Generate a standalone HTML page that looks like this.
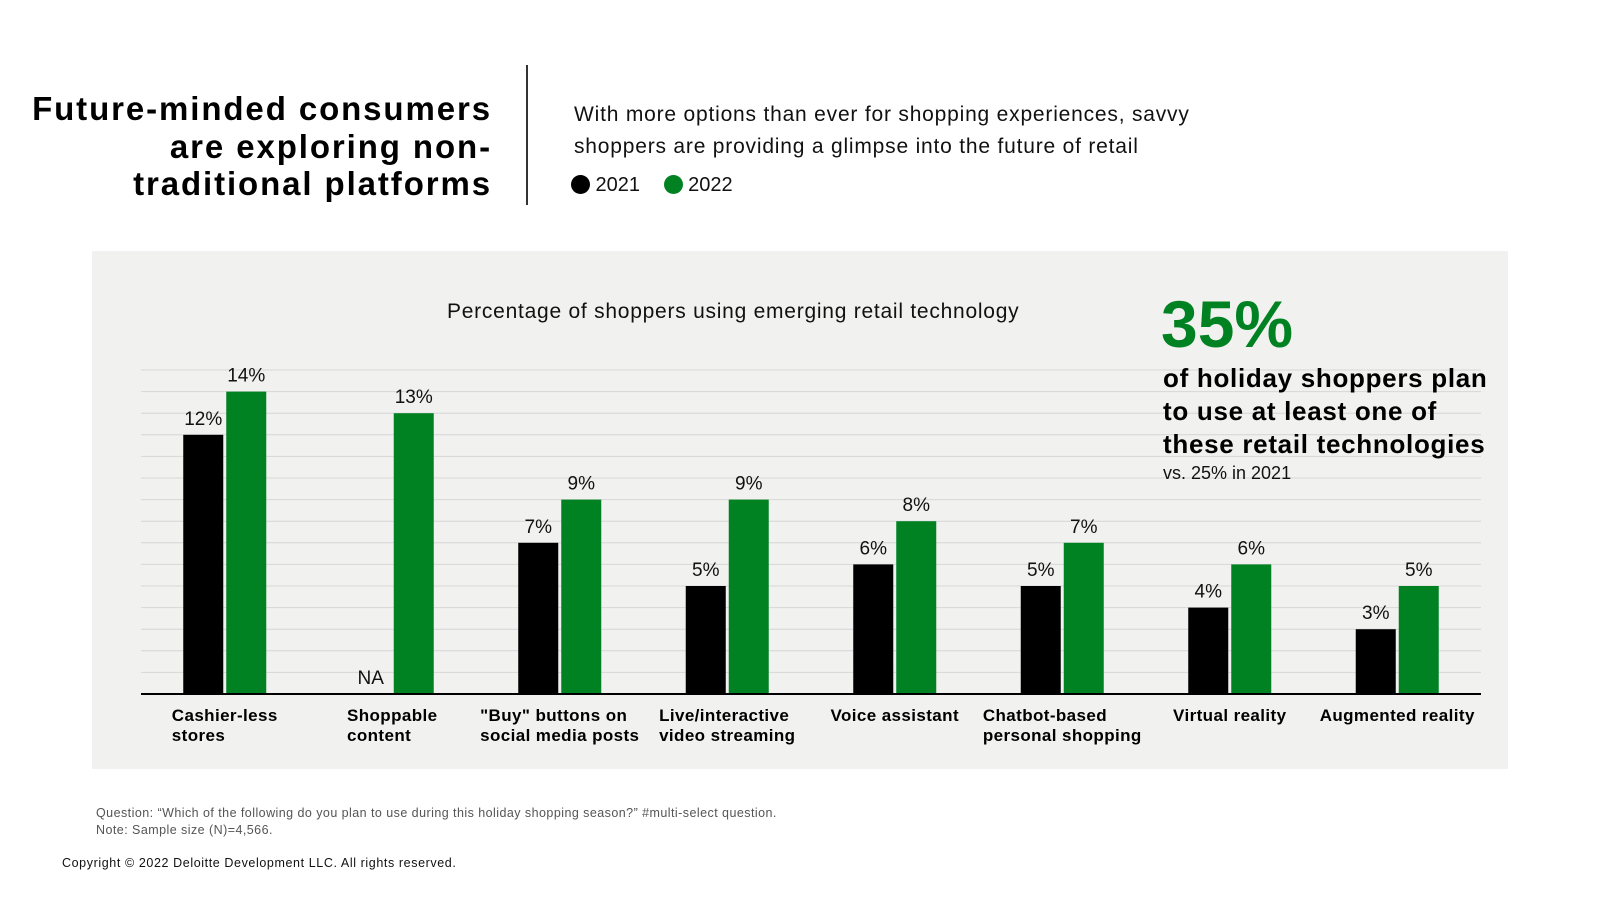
<!DOCTYPE html>
<html><head><meta charset="utf-8"><style>
body{margin:0;width:1600px;height:900px;background:#fff;font-family:"Liberation Sans",sans-serif;position:relative;overflow:hidden}
.a{position:absolute;white-space:nowrap}
</style></head><body>
<div class="a" style="right:1108px;top:90px;text-align:right;font-weight:bold;font-size:33px;line-height:37.5px;color:#000;letter-spacing:1.9px">Future-minded consumers<br>are exploring non-<br>traditional platforms</div>
<div class="a" style="left:526px;top:65px;width:2px;height:140px;background:#333"></div>
<div class="a" style="left:574px;top:99px;font-size:21px;line-height:32px;color:#111;letter-spacing:0.8px">With more options than ever for shopping experiences, savvy<br>shoppers are providing a glimpse into the future of retail</div>
<div class="a" style="left:571px;top:174px;font-size:20px;color:#111">
<span><span style="display:inline-block;width:19px;height:19px;border-radius:50%;background:#000;vertical-align:-3px"></span> 2021</span>
<span style="margin-left:18px"><span style="display:inline-block;width:19px;height:19px;border-radius:50%;background:#008223;vertical-align:-3px"></span> 2022</span></div>
<div class="a" style="left:92px;top:251px;width:1416px;height:518px;background:#f1f1f0"></div>
<svg class="a" style="left:0;top:0" width="1600" height="900" id="chart"></svg>
<div class="a" style="left:447px;top:300px;font-size:21px;color:#111;letter-spacing:0.75px">Percentage of shoppers using emerging retail technology</div>
<div class="a" style="left:1161px;top:288px;font-size:66px;font-weight:bold;color:#008223;line-height:72px">35%</div>
<div class="a" style="left:1163px;top:362px;font-size:26px;font-weight:bold;line-height:33px;color:#000;letter-spacing:0.7px">of holiday shoppers plan<br>to use at least one of<br>these retail technologies</div>
<div class="a" style="left:1163px;top:463px;font-size:18px;color:#111">vs. 25% in 2021</div>
<div id="labels"></div>
<div class="a" style="left:96px;top:805px;font-size:12.5px;line-height:16.5px;color:#555;letter-spacing:0.45px">Question: “Which of the following do you plan to use during this holiday shopping season?” #multi-select question.<br>Note: Sample size (N)=4,566.</div>
<div class="a" style="left:62px;top:856px;font-size:12.5px;color:#111;letter-spacing:0.6px">Copyright © 2022 Deloitte Development LLC. All rights reserved.</div>
<script>
const categories=[["Cashier-less","stores"],["Shoppable","content"],["\"Buy\" buttons on","social media posts"],["Live/interactive","video streaming"],["Voice assistant"],["Chatbot-based","personal shopping"],["Virtual reality"],["Augmented reality"]];
const v2021=[12,null,7,5,6,5,4,3];
const v2022=[14,13,9,9,8,7,6,5];
const NS="http://www.w3.org/2000/svg";
const svg=document.getElementById('chart');
const x0=141,x1=1481,base=694,perPct=21.6;
const y=v=>base-v*perPct;
const gw=(x1-x0)/categories.length;
const cx=i=>x0+gw*(i+0.5);
function mk(t,a){const e=document.createElementNS(NS,t);for(const k in a)e.setAttribute(k,a[k]);svg.appendChild(e);return e;}
for(let g=1;g<=15;g++){const l=mk('line',{x1:x0,x2:x1,y1:y(g),y2:y(g),stroke:'#d6d6d6','stroke-width':1});

}
function txt(x,yy,s,name){const t=mk('text',{x:x,y:yy,'text-anchor':'middle','font-size':19,fill:'#111','font-family':'Liberation Sans, sans-serif'});t.textContent=s;

}
const bw=40,gap=3;
categories.forEach((c,i)=>{
 const c0=cx(i);
 const bx=c0-gap/2-bw, gx=c0+gap/2;
 if(v2021[i]!=null){
  const r=mk('rect',{x:bx,y:y(v2021[i]),width:bw,height:v2021[i]*perPct,fill:'#000'});
  
  
  txt(bx+bw/2,y(v2021[i])-10,v2021[i]+'%','value-label-2021');
 } else txt(bx+bw/2,base-10,'NA','value-label-na');
 const r2=mk('rect',{x:gx,y:y(v2022[i]),width:bw,height:v2022[i]*perPct,fill:'#008223'});
 
 
 txt(gx+bw/2,y(v2022[i])-10,v2022[i]+'%','value-label-2022');
 const d=document.createElement('div');
 d.className='a';
 
 
 d.style.cssText='top:706px;font-size:17px;font-weight:bold;line-height:19.5px;color:#000;text-align:left;letter-spacing:0.4px;transform:translateX(-50%);left:'+c0+'px';
 d.innerHTML=c.join('<br>');
 document.getElementById('labels').appendChild(d);
});
const ax=mk('line',{x1:x0,x2:x1,y1:base,y2:base,stroke:'#000','stroke-width':2});


</script>
</body></html>
